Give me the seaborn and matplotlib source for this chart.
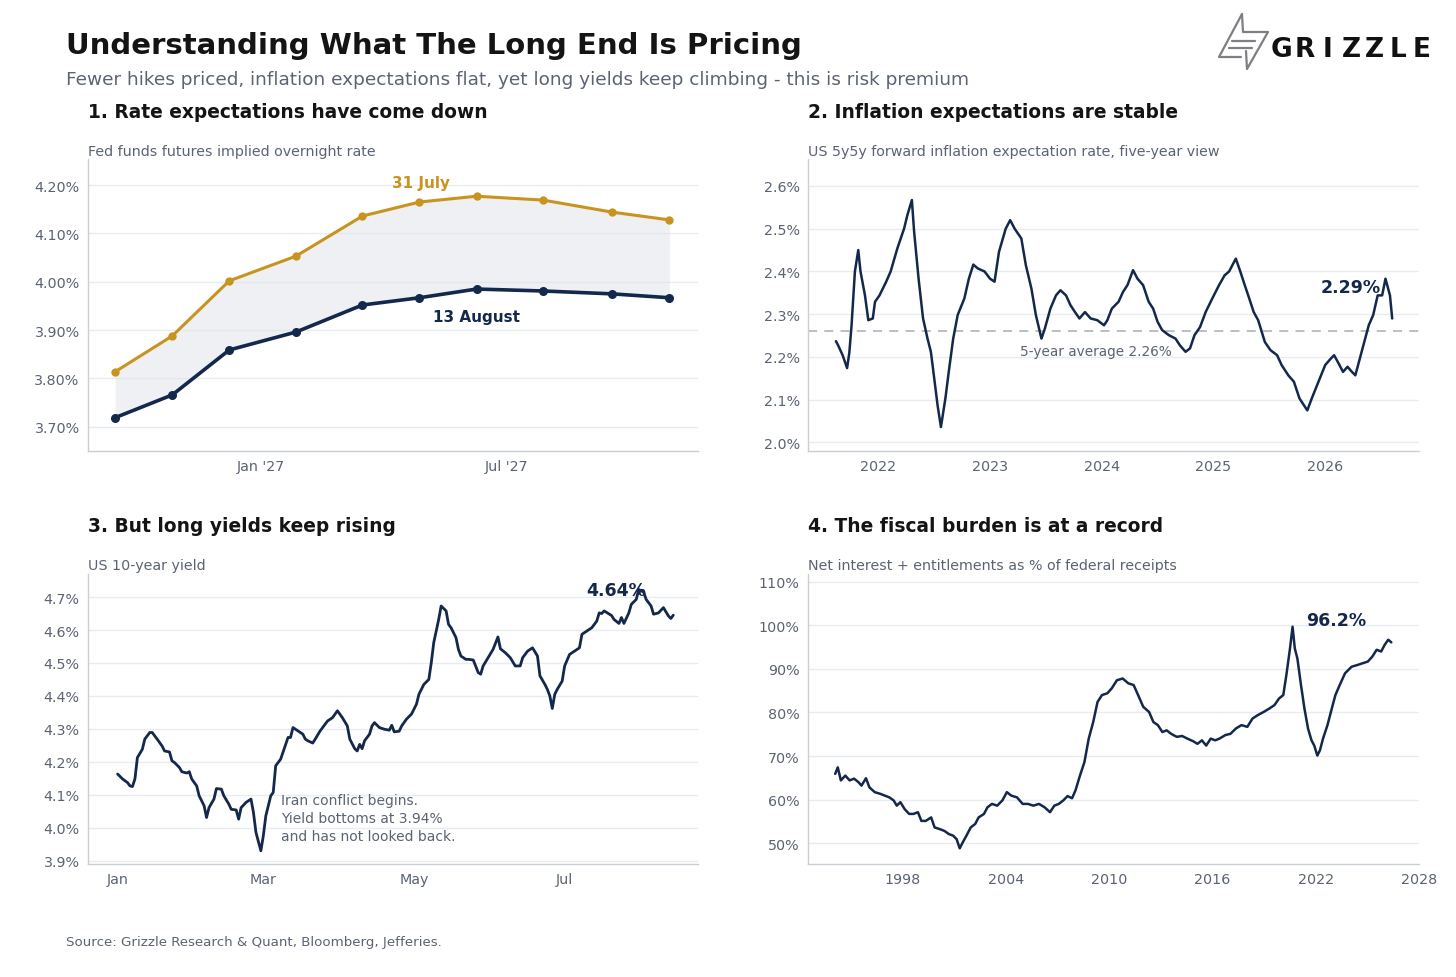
import numpy as np
import pandas as pd
import matplotlib
matplotlib.use("Agg")
import matplotlib.pyplot as plt
import matplotlib.dates as mdates
from matplotlib.ticker import FuncFormatter, MultipleLocator
from matplotlib.lines import Line2D
import seaborn as sns

NAVY = "#13284a"
GOLD = "#c9931f"
GREY_TXT = "#5b6373"
GRID = "#e8ebf0"
SPINE = "#c9ced6"

# --- panel 1: fed funds futures path (meeting dates) ---
meeting_dates = ["2026-09-16", "2026-10-28", "2026-12-09", "2027-01-27", "2027-03-17",
                 "2027-04-28", "2027-06-09", "2027-07-28", "2027-09-17", "2027-10-29"]
rate_jul31 = [3.814, 3.888, 4.002, 4.053, 4.136, 4.165, 4.177, 4.169, 4.144, 4.128]
rate_aug13 = [3.719, 3.766, 3.859, 3.896, 3.952, 3.967, 3.985, 3.981, 3.975, 3.967]

# --- panel 2: 5y5y inflation expectations ---
infl_year = [2021.62, 2021.64, 2021.68, 2021.72, 2021.74, 2021.76, 2021.79, 2021.82, 2021.84, 2021.88,
             2021.91, 2021.95, 2021.97, 2022.01, 2022.07, 2022.11, 2022.17, 2022.23, 2022.26, 2022.30,
             2022.32, 2022.36, 2022.40, 2022.44, 2022.47, 2022.50, 2022.53, 2022.56, 2022.60, 2022.63,
             2022.67, 2022.71, 2022.77, 2022.81, 2022.85, 2022.89, 2022.95, 2023.00, 2023.04, 2023.08,
             2023.14, 2023.18, 2023.22, 2023.28, 2023.32, 2023.37, 2023.41, 2023.46, 2023.49, 2023.54,
             2023.59, 2023.63, 2023.68, 2023.72, 2023.76, 2023.80, 2023.85, 2023.90, 2023.96, 2024.02,
             2024.05, 2024.09, 2024.15, 2024.19, 2024.23, 2024.28, 2024.32, 2024.37, 2024.42, 2024.46,
             2024.50, 2024.54, 2024.60, 2024.66, 2024.70, 2024.75, 2024.79, 2024.83, 2024.88, 2024.93,
             2024.99, 2025.05, 2025.10, 2025.14, 2025.20, 2025.24, 2025.28, 2025.32, 2025.36, 2025.40,
             2025.46, 2025.51, 2025.57, 2025.61, 2025.67, 2025.72, 2025.77, 2025.81, 2025.84, 2025.88,
             2025.94, 2026.00, 2026.05, 2026.08, 2026.12, 2026.16, 2026.20, 2026.24, 2026.27, 2026.31,
             2026.35, 2026.39, 2026.43, 2026.47, 2026.51, 2026.54, 2026.58, 2026.60]
infl_rate = [2.237, 2.227, 2.204, 2.174, 2.210, 2.274, 2.400, 2.450, 2.400, 2.344,
             2.286, 2.290, 2.329, 2.344, 2.376, 2.400, 2.454, 2.500, 2.532, 2.567,
             2.493, 2.383, 2.290, 2.243, 2.212, 2.150, 2.087, 2.036, 2.103, 2.165,
             2.243, 2.298, 2.337, 2.383, 2.416, 2.407, 2.400, 2.383, 2.376, 2.446,
             2.500, 2.520, 2.500, 2.477, 2.415, 2.360, 2.298, 2.243, 2.266, 2.313,
             2.344, 2.356, 2.344, 2.321, 2.305, 2.290, 2.305, 2.290, 2.286, 2.274,
             2.286, 2.313, 2.329, 2.352, 2.368, 2.403, 2.383, 2.368, 2.329, 2.313,
             2.282, 2.263, 2.251, 2.243, 2.227, 2.212, 2.220, 2.251, 2.270, 2.305,
             2.337, 2.368, 2.391, 2.400, 2.430, 2.400, 2.368, 2.337, 2.305, 2.286,
             2.235, 2.216, 2.204, 2.181, 2.157, 2.142, 2.103, 2.087, 2.075, 2.103,
             2.142, 2.181, 2.196, 2.204, 2.185, 2.165, 2.177, 2.165, 2.157, 2.196,
             2.235, 2.274, 2.298, 2.344, 2.344, 2.383, 2.344, 2.290]
infl_avg = 2.26

# --- panel 3: US 10-year yield, 2026 (days since 1 Jan) ---
yld_day = [0, 2, 4, 5, 6, 7, 8, 10, 11, 13, 14, 16, 18, 19, 21, 22, 23, 25, 26, 28,
           29, 30, 32, 33, 35, 36, 37, 39, 40, 42, 43, 45, 46, 48, 49, 50, 52, 54, 55, 56,
           58, 59, 60, 62, 63, 64, 66, 67, 69, 70, 71, 73, 75, 76, 77, 79, 80, 82, 83, 85,
           87, 89, 91, 93, 94, 96, 97, 98, 99, 100, 102, 103, 104, 106, 108, 110, 111, 112, 114, 115,
           117, 119, 121, 122, 124, 126, 127, 128, 130, 131, 133, 134, 135, 137, 138, 139, 141, 142, 144, 146,
           147, 148, 150, 152, 154, 155, 157, 159, 161, 163, 164, 166, 168, 170, 171, 173, 174, 175, 176, 177,
           178, 180, 181, 183, 185, 187, 188, 190, 192, 194, 195, 196, 197, 200, 201, 203, 204, 205, 207, 208,
           210, 211, 213, 214, 216, 217, 219, 221, 223, 224, 225]
yld_rate = [4.163, 4.148, 4.137, 4.127, 4.125, 4.148, 4.213, 4.238, 4.269, 4.289, 4.289, 4.269, 4.248, 4.233, 4.230, 4.203, 4.198, 4.183, 4.170, 4.166,
            4.170, 4.148, 4.127, 4.097, 4.067, 4.031, 4.061, 4.087, 4.119, 4.117, 4.097, 4.072, 4.056, 4.054, 4.026, 4.061, 4.077, 4.087, 4.046, 3.986,
            3.930, 3.976, 4.036, 4.097, 4.107, 4.188, 4.208, 4.230, 4.274, 4.274, 4.304, 4.294, 4.284, 4.269, 4.264, 4.257, 4.269, 4.294, 4.304, 4.324,
            4.334, 4.355, 4.334, 4.309, 4.269, 4.240, 4.233, 4.253, 4.240, 4.264, 4.284, 4.309, 4.319, 4.304, 4.299, 4.296, 4.311, 4.291, 4.293, 4.309,
            4.330, 4.345, 4.375, 4.405, 4.435, 4.450, 4.501, 4.562, 4.632, 4.673, 4.658, 4.617, 4.607, 4.577, 4.541, 4.521, 4.511, 4.511, 4.509, 4.471,
            4.466, 4.491, 4.516, 4.541, 4.579, 4.543, 4.531, 4.516, 4.491, 4.491, 4.516, 4.536, 4.546, 4.521, 4.461, 4.435, 4.420, 4.400, 4.362, 4.405,
            4.420, 4.445, 4.491, 4.526, 4.536, 4.546, 4.587, 4.597, 4.607, 4.627, 4.652, 4.650, 4.658, 4.644, 4.632, 4.620, 4.638, 4.620, 4.652, 4.678,
            4.693, 4.723, 4.715, 4.693, 4.673, 4.648, 4.652, 4.668, 4.643, 4.635, 4.645]

# --- panel 4: net interest + entitlements as % of receipts ---
fisc_year = [1994.06, 1994.21, 1994.39, 1994.65, 1994.90, 1995.16, 1995.41, 1995.59, 1995.85, 1996.05,
             1996.36, 1996.69, 1996.95, 1997.21, 1997.46, 1997.64, 1997.85, 1998.10, 1998.36, 1998.61,
             1998.87, 1999.07, 1999.33, 1999.64, 1999.84, 2000.15, 2000.41, 2000.66, 2000.92, 2001.12,
             2001.30, 2001.48, 2001.69, 2001.94, 2002.20, 2002.40, 2002.71, 2002.91, 2003.17, 2003.48,
             2003.78, 2004.04, 2004.30, 2004.63, 2004.96, 2005.27, 2005.58, 2005.91, 2006.24, 2006.55,
             2006.80, 2007.06, 2007.32, 2007.57, 2007.83, 2008.03, 2008.29, 2008.55, 2008.80, 2009.06,
             2009.31, 2009.57, 2009.88, 2010.13, 2010.44, 2010.77, 2011.10, 2011.41, 2011.67, 2011.97,
             2012.31, 2012.56, 2012.82, 2013.08, 2013.33, 2013.59, 2013.92, 2014.23, 2014.53, 2014.87,
             2015.12, 2015.38, 2015.63, 2015.89, 2016.15, 2016.40, 2016.74, 2017.04, 2017.35, 2017.68,
             2018.02, 2018.32, 2018.63, 2018.96, 2019.30, 2019.60, 2019.86, 2020.11, 2020.29, 2020.50,
             2020.65, 2020.78, 2020.93, 2021.14, 2021.34, 2021.55, 2021.75, 2021.91, 2022.09, 2022.24,
             2022.42, 2022.68, 2022.93, 2023.14, 2023.39, 2023.70, 2024.08, 2024.42, 2024.72, 2025.03,
             2025.28, 2025.54, 2025.80, 2026.00, 2026.21, 2026.39]
fisc_pct = [65.9, 67.4, 64.4, 65.5, 64.4, 64.8, 64.0, 63.2, 64.9, 62.8,
            61.7, 61.3, 60.9, 60.5, 59.8, 58.6, 59.4, 57.8, 56.7, 56.7,
            57.1, 55.1, 55.1, 55.9, 53.6, 53.2, 52.8, 52.1, 51.7, 50.9,
            48.8, 50.2, 51.7, 53.6, 54.4, 55.9, 56.7, 58.2, 59.0, 58.6,
            59.8, 61.7, 60.9, 60.5, 59.0, 59.0, 58.6, 59.0, 58.2, 57.1,
            58.6, 59.0, 59.8, 60.8, 60.3, 62.1, 65.5, 68.6, 74.0, 77.8,
            82.4, 84.0, 84.4, 85.5, 87.4, 87.8, 86.7, 86.3, 84.0, 81.3,
            80.1, 77.8, 77.1, 75.5, 75.9, 75.1, 74.4, 74.6, 74.0, 73.4,
            72.8, 73.6, 72.4, 74.0, 73.6, 74.0, 74.8, 75.1, 76.3, 77.1,
            76.7, 78.6, 79.4, 80.1, 80.9, 81.7, 83.2, 84.0, 88.6, 94.7,
            99.7, 94.7, 92.4, 86.3, 80.9, 76.3, 73.6, 72.4, 70.1, 71.3,
            74.0, 77.1, 80.9, 84.0, 86.3, 89.0, 90.5, 90.9, 91.3, 91.7,
            92.8, 94.4, 94.0, 95.5, 96.7, 96.1]

sns.set_theme(style="white")
plt.rcParams["font.family"] = ["DejaVu Sans"]

fig = plt.figure(figsize=(14.56, 9.78), dpi=100)
W, H = 1456, 978


def box(l, t, r, b):
    return [l / W, 1 - b / H, (r - l) / W, (b - t) / H]


def style(ax):
    for s in ["top", "right"]:
        ax.spines[s].set_visible(False)
    for s in ["left", "bottom"]:
        ax.spines[s].set_color(SPINE)
        ax.spines[s].set_linewidth(1.0)
    ax.yaxis.grid(True, color=GRID, lw=1.0)
    ax.xaxis.grid(False)
    ax.set_axisbelow(True)
    ax.tick_params(axis="both", length=0, labelsize=10.3, labelcolor=GREY_TXT, pad=6)
    ax.set_xlabel("")
    ax.set_ylabel("")


ax1 = fig.add_axes(box(88, 160, 698, 452))
ax2 = fig.add_axes(box(808, 160, 1419, 452))
ax3 = fig.add_axes(box(88, 575, 698, 865))
ax4 = fig.add_axes(box(808, 575, 1419, 865))

# panel 1
p1 = pd.DataFrame({"date": pd.to_datetime(meeting_dates), "jul": rate_jul31, "aug": rate_aug13})
ax1.fill_between(p1["date"], p1["aug"], p1["jul"], color="#dfe3ea", alpha=0.5, lw=0)
sns.lineplot(data=p1, x="date", y="jul", ax=ax1, color=GOLD, lw=2.2, marker="o", markersize=6,
             markeredgewidth=0)
sns.lineplot(data=p1, x="date", y="aug", ax=ax1, color=NAVY, lw=2.6, marker="o", markersize=6.5,
             markeredgewidth=0)
ax1.set_ylim(3.65, 4.254)
ax1.set_xlim(pd.Timestamp("2026-08-27"), pd.Timestamp("2027-11-19"))
ax1.yaxis.set_major_locator(MultipleLocator(0.1))
ax1.yaxis.set_major_formatter(FuncFormatter(lambda v, p: f"{v:.2f}%"))
ax1.set_xticks(pd.to_datetime(["2027-01-01", "2027-07-01"]))
ax1.xaxis.set_major_formatter(mdates.DateFormatter("%b '%y"))
ax1.text(pd.Timestamp("2027-04-29"), 4.205, "31 July", color=GOLD, fontsize=11, fontweight="bold",
         ha="center", va="center")
ax1.text(pd.Timestamp("2027-06-09"), 3.928, "13 August", color=NAVY, fontsize=11, fontweight="bold",
         ha="center", va="center")
style(ax1)

# panel 2
p2 = pd.DataFrame({"year": infl_year, "rate": infl_rate})
ax2.axhline(infl_avg, color="#b5b9c0", lw=1.3, ls=(0, (5, 4)))
sns.lineplot(data=p2, x="year", y="rate", ax=ax2, color=NAVY, lw=1.8)
ax2.set_ylim(1.98, 2.663)
ax2.set_xlim(2021.37, 2026.84)
ax2.set_xticks([2022, 2023, 2024, 2025, 2026])
ax2.xaxis.set_major_formatter(FuncFormatter(lambda v, p: f"{v:.0f}"))
ax2.yaxis.set_major_locator(MultipleLocator(0.1))
ax2.yaxis.set_major_formatter(FuncFormatter(lambda v, p: f"{v:.1f}%"))
ax2.text(2023.95, 2.213, "5-year average 2.26%", color=GREY_TXT, fontsize=9.8, ha="center", va="center")
ax2.text(2026.23, 2.363, "2.29%", color=NAVY, fontsize=12.5, fontweight="bold", ha="center", va="center")
style(ax2)

# panel 3
p3 = pd.DataFrame({"date": pd.Timestamp("2026-01-01") + pd.to_timedelta(yld_day, unit="D"),
                   "rate": yld_rate})
sns.lineplot(data=p3, x="date", y="rate", ax=ax3, color=NAVY, lw=2.0)
ax3.set_ylim(3.89, 4.77)
ax3.set_xlim(pd.Timestamp("2025-12-20"), pd.Timestamp("2026-08-24"))
ax3.set_xticks(pd.to_datetime(["2026-01-01", "2026-03-01", "2026-05-01", "2026-07-01"]))
ax3.xaxis.set_major_formatter(mdates.DateFormatter("%b"))
ax3.yaxis.set_major_locator(MultipleLocator(0.1))
ax3.yaxis.set_major_formatter(FuncFormatter(lambda v, p: f"{v:.1f}%"))
ax3.text(pd.Timestamp("2026-03-08"), 4.105, "Iran conflict begins.\nYield bottoms at 3.94%\nand has not looked back.",
         color=GREY_TXT, fontsize=10, ha="left", va="top", linespacing=1.35)
ax3.text(pd.Timestamp("2026-07-22"), 4.72, "4.64%", color=NAVY, fontsize=12.5, fontweight="bold",
         ha="center", va="center")
style(ax3)

# panel 4
p4 = pd.DataFrame({"year": fisc_year, "pct": fisc_pct})
sns.lineplot(data=p4, x="year", y="pct", ax=ax4, color=NAVY, lw=1.8)
ax4.set_ylim(45.2, 111.8)
ax4.set_xlim(1992.48, 2028)
ax4.set_xticks([1998, 2004, 2010, 2016, 2022, 2028])
ax4.xaxis.set_major_formatter(FuncFormatter(lambda v, p: f"{v:.0f}"))
ax4.yaxis.set_major_locator(MultipleLocator(10))
ax4.yaxis.set_major_formatter(FuncFormatter(lambda v, p: f"{v:.0f}%"))
ax4.text(2023.2, 101.3, "96.2%", color=NAVY, fontsize=12.5, fontweight="bold", ha="center", va="center")
style(ax4)

# headings
fig.text(66 / W, 1 - 46 / H, "Understanding What The Long End Is Pricing", fontsize=21, fontweight="bold",
         color="#141414", ha="left", va="center")
fig.text(66 / W, 1 - 80 / H, "Fewer hikes priced, inflation expectations flat, yet long yields keep climbing - this is risk premium",
         fontsize=13.3, color=GREY_TXT, ha="left", va="center")

panel_titles = ["1. Rate expectations have come down", "2. Inflation expectations are stable",
                "3. But long yields keep rising", "4. The fiscal burden is at a record"]
panel_subs = ["Fed funds futures implied overnight rate",
              "US 5y5y forward inflation expectation rate, five-year view",
              "US 10-year yield", "Net interest + entitlements as % of federal receipts"]
for i, (t, s) in enumerate(zip(panel_titles, panel_subs)):
    x0 = 88 if i % 2 == 0 else 808
    yt = 112 if i < 2 else 526
    fig.text(x0 / W, 1 - yt / H, t, fontsize=13.4, fontweight="bold", color="#141414", ha="left", va="center")
    fig.text(x0 / W, 1 - (yt + 40) / H, s, fontsize=10.25, color=GREY_TXT, ha="left", va="center")

fig.text(66 / W, 1 - 943 / H, "Source: Grizzle Research & Quant, Bloomberg, Jefferies.", fontsize=9.6,
         color=GREY_TXT, ha="left", va="center")

# logo
logo_lines = [
    [(1242, 15), (1219, 58), (1241, 58)],
    [(1242, 15), (1243, 33), (1268, 33), (1247, 70), (1246, 52)],
    [(1232, 42), (1255, 42)],
    [(1229, 49), (1252, 49)],
]
for pts in logo_lines:
    xs = [p[0] / W for p in pts]
    ys = [1 - p[1] / H for p in pts]
    fig.add_artist(Line2D(xs, ys, color="#7d7f83", lw=1.6))
for k, ch in enumerate("GRIZZLE"):
    fig.text((1281 + k * 23.4) / W, 1 - 50 / H, ch, fontsize=19, fontweight="bold", color="#111111",
             ha="center", va="center")

fig.savefig("out.png", dpi=100)
